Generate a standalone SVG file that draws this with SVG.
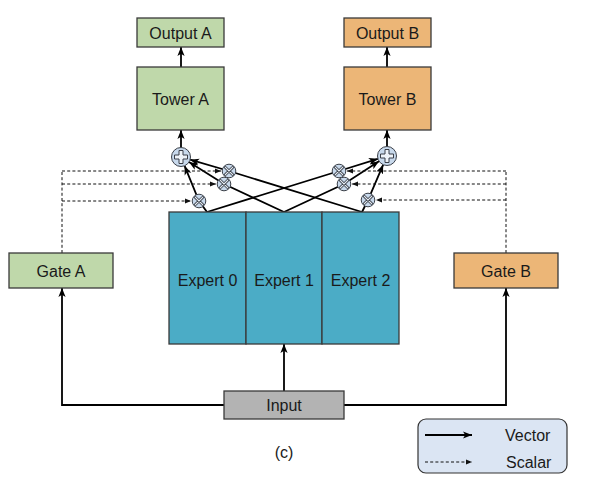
<svg xmlns="http://www.w3.org/2000/svg" width="604" height="496" viewBox="0 0 604 496">
<style>
.box{stroke:#3a3a3a;stroke-width:1.3}
.green{fill:#bfd8aa}
.orange{fill:#ecb677}
.t{font-family:"Liberation Sans",Arial,sans-serif;font-size:16px;fill:#1a1a1a;text-anchor:middle;dominant-baseline:central}
.v{fill:none;stroke:#000;stroke-width:1.8}
.s{fill:none;stroke:#111;stroke-width:1;stroke-dasharray:3 2.2}
.mul{fill:#c8d9ec;stroke:#3a3f48;stroke-width:1}
.xo{stroke:#3a3f48;stroke-width:2.8;stroke-linecap:round}
.xi{stroke:#e8eef6;stroke-width:1.2;stroke-linecap:round}
</style>
<defs>
<marker id="ah" viewBox="0 0 10 10" refX="10" refY="5" markerWidth="9" markerHeight="9" markerUnits="userSpaceOnUse" orient="auto">
<path d="M0,1 L10,5 L0,9 L2.5,5 z" fill="#000"/>
</marker>
<marker id="ahs" viewBox="0 0 10 10" refX="10" refY="5" markerWidth="6" markerHeight="6" markerUnits="userSpaceOnUse" orient="auto">
<path d="M0,1 L10,5 L0,9 z" fill="#111"/>
</marker>
<g id="mulsym">
<circle r="6.8" class="mul"/>
<path d="M-3.6,-3.6 L3.6,3.6 M-3.6,3.6 L3.6,-3.6" class="xo"/>
<path d="M-3.6,-3.6 L3.6,3.6 M-3.6,3.6 L3.6,-3.6" class="xi"/>
</g>
<g id="plussym">
<circle r="9.5" class="mul"/>
<path d="M-2,-6.5 H2 V-2 H6.5 V2 H2 V6.5 H-2 V2 H-6.5 V-2 H-2 z" fill="#eef3f9" stroke="#3a3f48" stroke-width="1"/>
</g>
</defs>
<rect width="604" height="496" fill="#fff"/>

<g id="connectors">
<path class="v" d="M284,391 V344" marker-end="url(#ah)"/>
<path class="v" d="M224,405 H62 V288" marker-end="url(#ah)"/>
<path class="v" d="M344,405 H506 V288" marker-end="url(#ah)"/>
<path class="v" d="M181,67 V47" marker-end="url(#ah)"/>
<path class="v" d="M387,67 V47" marker-end="url(#ah)"/>
<path class="v" d="M181,147.5 V130" marker-end="url(#ah)"/>
<path class="v" d="M387,146.5 V130" marker-end="url(#ah)"/>
<path class="v" d="M362,212 L229,171 L190.1,159.7" marker-end="url(#ah)"/>
<path class="v" d="M284,212 L224,184 L189,162" marker-end="url(#ah)"/>
<path class="v" d="M207,212 L199,201 L184.6,165.8" marker-end="url(#ah)"/>
<path class="v" d="M207,212 L339,171 L377.9,158.8" marker-end="url(#ah)"/>
<path class="v" d="M284,212 L344,184 L379,161.2" marker-end="url(#ah)"/>
<path class="v" d="M362,212 L368,200 L383.2,164.7" marker-end="url(#ah)"/>
<path class="s" d="M62,253 V171"/>
<path class="s" d="M62,171 H221" marker-end="url(#ahs)"/>
<path class="s" d="M62,184 H216" marker-end="url(#ahs)"/>
<path class="s" d="M62,201 H191" marker-end="url(#ahs)"/>
<path class="s" d="M506,253 V171"/>
<path class="s" d="M506,171 H347" marker-end="url(#ahs)"/>
<path class="s" d="M506,184 H352" marker-end="url(#ahs)"/>
<path class="s" d="M506,200 H376" marker-end="url(#ahs)"/>
</g>

<g id="mult-a0"><use href="#mulsym" x="229" y="171"/></g>
<g id="mult-a1"><use href="#mulsym" x="224" y="184"/></g>
<g id="mult-a2"><use href="#mulsym" x="199" y="201"/></g>
<g id="mult-b0"><use href="#mulsym" x="339" y="171"/></g>
<g id="mult-b1"><use href="#mulsym" x="344" y="184"/></g>
<g id="mult-b2"><use href="#mulsym" x="368" y="200"/></g>
<g id="plus-a"><use href="#plussym" x="181" y="157"/></g>
<g id="plus-b"><use href="#plussym" x="387" y="156"/></g>

<g id="output-a"><rect x="137" y="18" width="87" height="29" class="box green"/><text x="180.5" y="33" class="t">Output A</text></g>
<g id="tower-a"><rect x="137" y="67" width="87" height="63" class="box green"/><text x="180.5" y="99" class="t">Tower A</text></g>
<g id="output-b"><rect x="344" y="18" width="87" height="29" class="box orange"/><text x="387.5" y="33" class="t">Output B</text></g>
<g id="tower-b"><rect x="344" y="67" width="87" height="63" class="box orange"/><text x="387.5" y="99" class="t">Tower B</text></g>

<g id="gate-a"><rect x="9" y="253" width="104" height="35" class="box green"/><text x="61" y="271" class="t">Gate A</text></g>
<g id="gate-b"><rect x="454" y="253" width="104" height="35" class="box orange"/><text x="506" y="271" class="t">Gate B</text></g>

<g id="expert-0"><rect x="169" y="212" width="77" height="132" class="box" fill="#4bacc6"/><text x="207.5" y="280" class="t">Expert 0</text></g>
<g id="expert-1"><rect x="246" y="212" width="76" height="132" class="box" fill="#4bacc6"/><text x="284" y="280" class="t">Expert 1</text></g>
<g id="expert-2"><rect x="322" y="212" width="77" height="132" class="box" fill="#4bacc6"/><text x="360.5" y="280" class="t">Expert 2</text></g>

<g id="input"><rect x="224" y="391" width="120" height="28" class="box" fill="#b3b3b3"/><text x="284" y="405" class="t">Input</text></g>

<text x="284" y="452" class="t">(c)</text>

<g id="legend">
<rect x="418" y="419" width="149" height="54" rx="8" fill="#dbe5f3" stroke="#333" stroke-width="1.2"/>
<path class="v" d="M425,435 H472" marker-end="url(#ah)"/>
<path class="s" d="M425,462 H472" marker-end="url(#ahs)"/>
<text x="505" y="435" class="t" style="text-anchor:start">Vector</text>
<text x="506" y="462" class="t" style="text-anchor:start">Scalar</text>
</g>
</svg>
